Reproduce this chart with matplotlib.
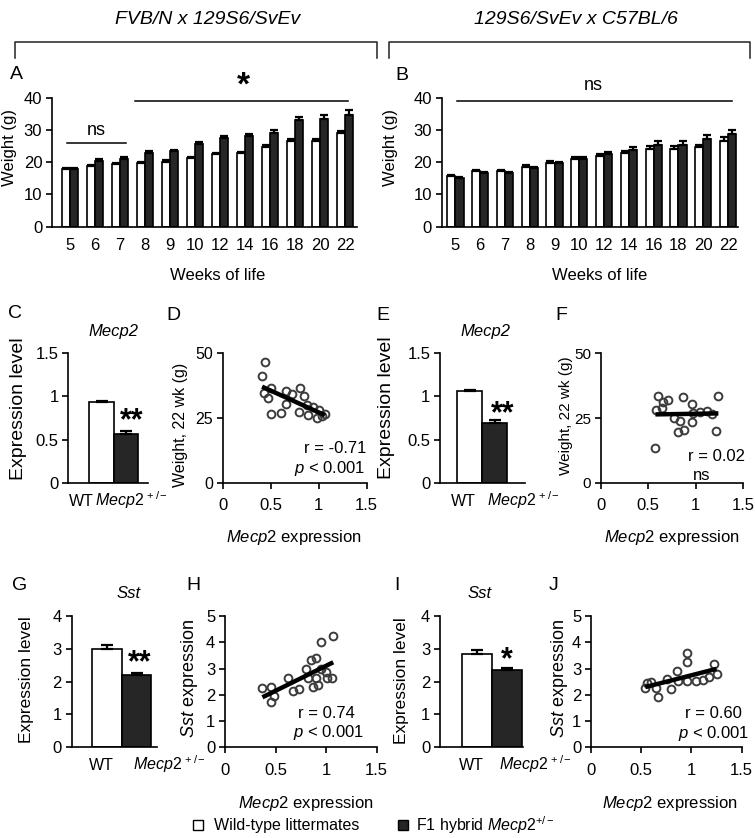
import numpy as np
import matplotlib
matplotlib.use('Agg')
import matplotlib.pyplot as plt
from matplotlib.patches import Rectangle
from matplotlib.lines import Line2D

plt.rcParams['font.family'] = ['Liberation Sans', 'DejaVu Sans']
plt.rcParams['mathtext.fontset'] = 'custom'
plt.rcParams['mathtext.rm'] = 'Liberation Sans'
plt.rcParams['mathtext.it'] = 'Liberation Sans:italic'
plt.rcParams['mathtext.bf'] = 'Liberation Sans:bold'

# ---------------- data ----------------
weeks = ['5', '6', '7', '8', '9', '10', '12', '14', '16', '18', '20', '22']

a_wt = [18.0, 18.8, 19.3, 19.8, 20.2, 21.3, 22.5, 22.7, 24.7, 26.5, 26.6, 29.0]
a_wt_err = [0.3, 0.4, 0.4, 0.3, 0.4, 0.4, 0.4, 0.5, 0.5, 0.6, 0.6, 0.6]
a_mut = [17.9, 20.5, 21.0, 23.0, 23.5, 25.7, 27.5, 28.0, 29.2, 33.0, 33.5, 34.7]
a_mut_err = [0.4, 0.6, 0.6, 0.4, 0.4, 0.5, 0.7, 0.8, 0.9, 1.0, 1.2, 1.5]

b_wt = [15.7, 17.2, 17.2, 18.6, 19.8, 21.1, 21.8, 22.8, 24.0, 24.0, 24.6, 26.6]
b_wt_err = [0.3, 0.3, 0.3, 0.4, 0.5, 0.5, 0.7, 0.8, 1.0, 1.0, 0.8, 1.3]
b_mut = [15.2, 16.5, 16.5, 18.2, 19.6, 21.1, 22.4, 23.8, 25.3, 25.3, 27.2, 28.7]
b_mut_err = [0.3, 0.4, 0.4, 0.4, 0.6, 0.5, 0.7, 0.9, 1.2, 1.2, 1.1, 1.4]

groups = ['WT', r'$\mathit{Mecp2}^{\,+/-}$']
c_vals = [0.93, 0.56]
c_errs = [0.02, 0.04]
e_vals = [1.06, 0.69]
e_errs = [0.01, 0.04]
g_vals = [2.98, 2.20]
g_errs = [0.15, 0.05]
i_vals = [2.83, 2.35]
i_errs = [0.14, 0.07]

d_x = [0.44, 0.41, 0.50, 0.43, 0.475, 0.66, 0.72, 0.80, 0.85, 0.66,
       0.50, 0.61, 0.79, 0.88, 0.94, 0.89, 1.00, 0.985, 1.03, 1.065]
d_y = [46.8, 41.3, 36.7, 34.5, 32.8, 35.4, 34.2, 36.5, 33.5, 30.3,
       26.5, 26.8, 27.4, 30.0, 29.4, 26.2, 28.1, 25.1, 25.9, 26.4]

f_x = [0.60, 0.66, 0.71, 0.64, 0.58, 0.87, 0.96, 1.24, 1.05, 1.12,
       1.17, 0.97, 0.77, 0.83, 0.96, 0.88, 0.81, 1.22, 0.575]
f_y = [33.6, 31.3, 32.0, 29.0, 28.1, 33.2, 30.3, 33.5, 27.4, 27.7,
       26.4, 26.8, 25.1, 23.8, 23.3, 20.4, 19.5, 20.0, 13.3]

h_x = [0.37, 0.45, 0.48, 0.45, 0.62, 0.67, 0.735, 0.80, 0.85, 0.90,
       0.945, 1.07, 0.95, 1.00, 0.82, 0.90, 0.87, 0.92, 1.01, 1.055]
h_y = [2.25, 2.29, 1.97, 1.72, 2.63, 2.16, 2.22, 2.98, 3.34, 3.40,
       4.02, 4.22, 2.97, 2.86, 2.62, 2.62, 2.28, 2.39, 2.62, 2.65]

j_x = [0.56, 0.54, 0.65, 0.67, 0.76, 0.80, 0.86, 0.87, 0.96, 0.96,
       0.96, 1.05, 1.11, 1.17, 1.22, 1.25, 0.60]
j_y = [2.46, 2.27, 2.24, 1.92, 2.59, 2.21, 2.90, 2.52, 3.60, 3.23,
       2.52, 2.52, 2.56, 2.68, 3.19, 2.78, 2.48]

# ---------------- figure ----------------
W, H = 755, 838
fig = plt.figure(figsize=(W / 100, H / 100), dpi=100)
DARK = '#262626'
LW = 1.2


def P(x, y):
    return (x / W, 1 - y / H)


def rect(l, r, t, b):
    return [l / W, 1 - b / H, (r - l) / W, (b - t) / H]


def ftext(x, y, s, **kw):
    kw.setdefault('ha', 'center')
    kw.setdefault('va', 'center')
    return fig.text(*P(x, y), s, **kw)


def style(ax, xticks=True, size=12, ysize=None):
    for s in ['top', 'right']:
        ax.spines[s].set_visible(False)
    for s in ['left', 'bottom']:
        ax.spines[s].set_linewidth(LW)
    ax.tick_params(axis='y', direction='out', length=4, width=LW,
                   labelsize=ysize or size, pad=3)
    if xticks:
        ax.tick_params(axis='x', direction='out', length=4, width=LW, labelsize=size, pad=7)
    else:
        ax.tick_params(axis='x', length=0, labelsize=size, pad=8)


# ---------------- header ----------------
ftext(208, 20, 'FVB/N x 129S6/SvEv', fontsize=14, style='italic')
ftext(576, 20, '129S6/SvEv x C57BL/6', fontsize=14, style='italic')
for (l, r) in [(14.5, 376.5), (389, 750)]:
    fig.add_artist(Line2D([l / W, l / W, r / W, r / W],
                          [1 - 58 / H, 1 - 42.5 / H, 1 - 42.5 / H, 1 - 58 / H],
                          color='#222222', lw=1.1))


# ---------------- weight panels ----------------
def weight_panel(box, wt, wt_err, mut, mut_err, xlim):
    ax = fig.add_axes(box)
    x = np.arange(len(weeks))
    w = 0.33
    ax.bar(x - w / 2, wt, w, color='white', edgecolor='black', lw=LW, zorder=2)
    ax.bar(x + w / 2, mut, w, color=DARK, edgecolor='black', lw=LW, zorder=2)
    ax.errorbar(x - w / 2, wt, yerr=[np.zeros(len(wt)), wt_err], fmt='none',
                ecolor='black', elinewidth=1.6, capsize=3, capthick=1.6, zorder=3)
    ax.errorbar(x + w / 2, mut, yerr=[np.zeros(len(mut)), mut_err], fmt='none',
                ecolor='black', elinewidth=1.6, capsize=3, capthick=1.6, zorder=3)
    ax.set_xlim(*xlim)
    ax.set_ylim(0, 40)
    ax.set_yticks([0, 10, 20, 30, 40])
    ax.set_xticks(x)
    ax.set_xticklabels(weeks)
    style(ax, xticks=False)
    return ax


axA = weight_panel(rect(52, 357, 97.7, 226.7), a_wt, a_wt_err, a_mut, a_mut_err, (-0.73, 11.48))
axB = weight_panel(rect(441.7, 738, 97.7, 226.7), b_wt, b_wt_err, b_mut, b_mut_err, (-0.55, 11.4))

# significance bars
axA.plot([-0.14, 2.23], [26, 26], color='black', lw=1.1, clip_on=False)
axA.text(1.05, 27.2, 'ns', ha='center', va='bottom', fontsize=13)
axA.plot([2.6, 11.13], [39, 39], color='black', lw=1.1, clip_on=False)
axA.text(6.93, 38.8, '*', ha='center', va='bottom', fontsize=24, fontweight='bold')
axB.plot([0.08, 11.14], [39, 39], color='black', lw=1.1, clip_on=False)
axB.text(5.55, 41.0, 'ns', ha='center', va='bottom', fontsize=13)

ftext(16.7, 74.7, 'A', fontsize=14)
ftext(401.7, 75, 'B', fontsize=14)
ftext(10, 148, 'Weight (g)', fontsize=12, rotation=90)
ftext(390, 148, 'Weight (g)', fontsize=12, rotation=90)
ftext(218, 275, 'Weeks of life', fontsize=12)
ftext(600, 275, 'Weeks of life', fontsize=12)


# ---------------- expression bar panels ----------------
def expr_panel(box, vals, errs, xlim, ylim, yticks, yticklabels):
    ax = fig.add_axes(box)
    ax.bar([0, 1], vals, 1.0, color=['white', DARK], edgecolor='black', lw=LW, zorder=2)
    ax.errorbar([0, 1], vals, yerr=[[0, 0], errs], fmt='none', ecolor='black',
                elinewidth=1.6, capsize=4, capthick=1.6, zorder=3)
    ax.set_xlim(*xlim)
    ax.set_ylim(*ylim)
    ax.set_yticks(yticks)
    ax.set_yticklabels(yticklabels)
    ax.set_xticks([])
    style(ax, xticks=False)
    return ax


def scatter_panel(box, x, y, ylim, yticks, yticklabels, ysize=12):
    ax = fig.add_axes(box)
    x = np.asarray(x)
    y = np.asarray(y)
    ax.plot(x, y, 'o', mfc='none', mec='#3c3c3c', ms=5.6, mew=1.4, zorder=2, clip_on=False)
    slope, icpt = np.polyfit(x, y, 1)
    xs = np.array([x.min(), x.max()])
    ax.plot(xs, slope * xs + icpt, color='black', lw=3.2, solid_capstyle='butt', zorder=3)
    ax.set_xlim(0, 1.5)
    ax.set_ylim(*ylim)
    ax.set_xticks([0, 0.5, 1, 1.5])
    ax.set_xticklabels(['0', '0.5', '1', '1.5'])
    ax.set_yticks(yticks)
    ax.set_yticklabels(yticklabels)
    style(ax, xticks=True, ysize=ysize)
    return ax


def group_labels(wt_x, mut_x, y):
    ftext(wt_x, y, groups[0], fontsize=11.5, ha='center', va='baseline')
    ftext(mut_x, y, groups[1], fontsize=11.5, ha='left', va='baseline')


exp_ticks = ([0, 0.5, 1, 1.5], ['0', '0.5', '1', '1.5'])
sst_ticks = ([0, 1, 2, 3, 4], ['0', '1', '2', '3', '4'])

# C
expr_panel(rect(68.3, 148.3, 353.3, 482.7), c_vals, c_errs, (-1.36, 1.9), (0, 1.5), *exp_ticks)
ftext(113.3, 331.7, 'Mecp2', fontsize=12, style='italic')
ftext(131.7, 421, '**', fontsize=22, fontweight='bold')
group_labels(81.7, 95, 506)
ftext(15, 313.3, 'C', fontsize=14)
ftext(18.3, 408.8, 'Expression level', fontsize=14, rotation=90)

# D
scatter_panel(rect(222.7, 366.7, 353.3, 482.7), d_x, d_y, (0, 50), [0, 25, 50],
              ['0', '25', '50'], ysize=11.5)
ftext(173, 315, 'D', fontsize=14)
ftext(180, 425, 'Weight, 22 wk (g)', fontsize=11.5, rotation=90)
ftext(335, 448.3, 'r = -0.71', fontsize=12)
ftext(330, 468.3, r'$\mathit{p}$ < 0.001', fontsize=12)
ftext(294, 537, r'$\mathit{Mecp2}$ expression', fontsize=12)

# E
expr_panel(rect(440, 525, 353.3, 482.7), e_vals, e_errs, (-1.19, 2.21), (0, 1.5), *exp_ticks)
ftext(485, 331.7, 'Mecp2', fontsize=12, style='italic')
ftext(502.7, 414, '**', fontsize=22, fontweight='bold')
group_labels(463.3, 486.7, 506)
ftext(383.3, 315, 'E', fontsize=14)
ftext(386.7, 407.5, 'Expression level', fontsize=14, rotation=90)

# F
scatter_panel(rect(601, 743, 353.3, 482.7), f_x, f_y, (0, 50), [0, 25, 50],
              ['0', '25', '50'], ysize=11)
ftext(561.7, 315, 'F', fontsize=14)
ftext(566, 416, 'Weight, 22 wk (g)', fontsize=11, rotation=90)
ftext(716.7, 456.7, 'r = 0.02', fontsize=12)
ftext(701.7, 475, 'ns', fontsize=12)
ftext(672, 537, r'$\mathit{Mecp2}$ expression', fontsize=12)

# G
expr_panel(rect(71.7, 156.7, 616, 747.3), g_vals, g_errs, (-1.2, 1.68), (0, 4), *sst_ticks)
ftext(128.3, 593.3, 'Sst', fontsize=12, style='italic')
ftext(140, 663, '**', fontsize=22, fontweight='bold')
group_labels(101.7, 133.3, 770)
ftext(20, 585, 'G', fontsize=14)
ftext(26.7, 680, 'Expression level', fontsize=12.5, rotation=90)

# H
scatter_panel(rect(225, 376.7, 616, 747.3), h_x, h_y, (0, 5), [0, 1, 2, 3, 4, 5],
              ['0', '1', '2', '3', '4', '5'])
ftext(193.3, 585, 'H', fontsize=14)
ftext(190, 679, r'$\mathit{Sst}$ expression', fontsize=13, rotation=90)
ftext(326.7, 713.3, 'r = 0.74', fontsize=12)
ftext(328.3, 732.7, r'$\mathit{p}$ < 0.001', fontsize=12)
ftext(306, 803, r'$\mathit{Mecp2}$ expression', fontsize=12)

# I
expr_panel(rect(440, 523, 616, 747.3), i_vals, i_errs, (-1.22, 1.54), (0, 4), *sst_ticks)
ftext(480, 593.3, 'Sst', fontsize=12, style='italic')
ftext(506.7, 660, '*', fontsize=22, fontweight='bold')
group_labels(471.7, 499, 770)
ftext(396.7, 585, 'I', fontsize=14)
ftext(401.7, 680.8, 'Expression level', fontsize=12.5, rotation=90)

# J
scatter_panel(rect(591, 741.7, 616, 747.3), j_x, j_y, (0, 5), [0, 1, 2, 3, 4, 5],
              ['0', '1', '2', '3', '4', '5'])
ftext(553.3, 585, 'J', fontsize=14)
ftext(560, 679, r'$\mathit{Sst}$ expression', fontsize=13, rotation=90)
ftext(713.3, 713.3, 'r = 0.60', fontsize=12)
ftext(713.3, 733.3, r'$\mathit{p}$ < 0.001', fontsize=12)
ftext(670, 803, r'$\mathit{Mecp2}$ expression', fontsize=12)

# ---------------- legend ----------------
fig.add_artist(Rectangle(P(193, 830), 10 / W, 10 / H, facecolor='white', edgecolor='black', lw=1.0))
ftext(214, 825, 'Wild-type littermates', fontsize=11.5, ha='left')
fig.add_artist(Rectangle(P(398, 830), 10 / W, 10 / H, facecolor=DARK, edgecolor='black', lw=1.0))
ftext(416, 825, r'F1 hybrid $\mathit{Mecp2}^{+/-}$', fontsize=11.5, ha='left')

fig.savefig('out.png', dpi=100)
